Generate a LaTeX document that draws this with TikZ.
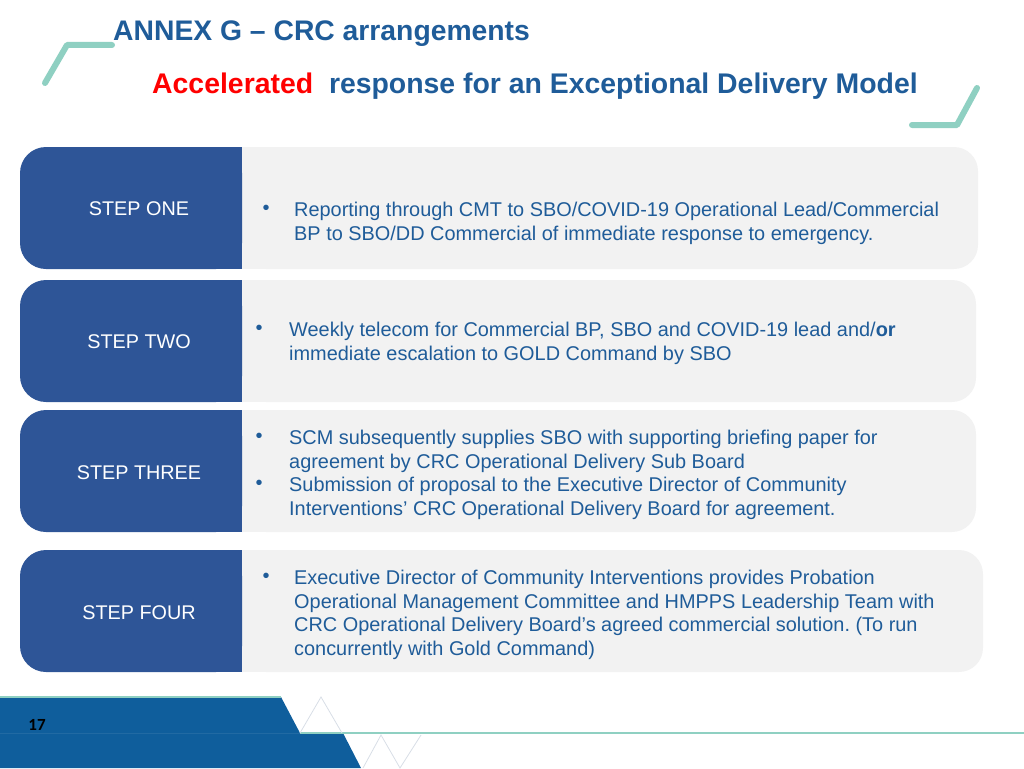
\documentclass[tikz,border=0pt]{standalone}
\usepackage{fontspec}
\setmainfont{Liberation Sans}
\newfontfamily\calfont{Carlito}
\definecolor{titleblue}{HTML}{1F5C99}
\definecolor{tabblue}{HTML}{2E5597}
\definecolor{boxgray}{HTML}{F2F2F2}
\definecolor{tealc}{HTML}{8FD0C2}
\definecolor{footblue}{HTML}{0F5E9C}
\definecolor{redc}{HTML}{FF0000}
\definecolor{trig}{HTML}{D8DEE6}
\newcommand{\firststrut}{\rule{0pt}{16pt}}
\frenchspacing
\begin{document}
\begin{tikzpicture}[x=1pt,y=-1pt,
  tabtext/.style={text=white,font=\fontsize{19.8}{24}\selectfont,anchor=center,inner sep=0},
  bodytext/.style={text=titleblue,font=\fontsize{19.9}{23.8}\selectfont,anchor=north west,align=left,inner sep=0},
  bullet/.style={text=titleblue,font=\fontsize{20}{24}\selectfont,anchor=base,inner sep=0},
  deco/.style={tealc,line width=6pt,line cap=round,line join=round}]
\useasboundingbox (0,0) rectangle (1024,768);
% decorations
\draw[deco] (45,83) -- (67,45) -- (112,45);
\draw[deco] (912,125) -- (957,125) -- (977,88);
% titles
\node[anchor=base west,inner sep=0,text=titleblue,font=\bfseries\fontsize{28.3}{32}\selectfont] (title) at (113,41) {ANNEX G -- CRC arrangements};
\node[anchor=base west,inner sep=0,text=titleblue,font=\bfseries\fontsize{28.4}{32}\selectfont] (subtitle) at (152,93) {\textcolor{redc}{Accelerated}\ \ response for an Exceptional Delivery Model};
% rows
\foreach \t/\b/\r in {147/269/978, 280/402/976, 410/532/976, 550/672/983}{
  \fill[boxgray,rounded corners=24] (242,\t) rectangle (\r,\b);
  \fill[boxgray] (242,\t) rectangle (400,\b);
  \fill[tabblue,rounded corners=26] (20,\t) rectangle (242,\b);
  \fill[tabblue] (150,\t) rectangle (242,\b);
}
\node[tabtext] (s1) at (139,209) {STEP ONE};
\node[tabtext] (s2) at (139,342) {STEP TWO};
\node[tabtext] (s3) at (139,473) {STEP THREE};
\node[tabtext] (s4) at (139,613) {STEP FOUR};
% row 1
\node[bullet] (b1) at (266,214) {•};
\node[bodytext] (t1) at (294,200) {\firststrut Reporting through CMT to SBO/COVID-19 Operational Lead/Commercial\\BP to SBO/DD Commercial of immediate response to emergency.};
% row 2
\node[bullet] (b2) at (259,334) {•};
\node[bodytext] (t2) at (289,320) {\firststrut Weekly telecom for Commercial BP, SBO and COVID-19 lead and/\textbf{or}\\immediate escalation to GOLD Command by SBO};
% row 3
\node[bullet] (b3) at (259,442) {•};
\node[bodytext] (t3) at (289,428) {\firststrut SCM subsequently supplies SBO with supporting briefing paper for\\agreement by CRC Operational Delivery Sub Board};
\node[bullet] (b3b) at (259,489) {•};
\node[bodytext] (t3b) at (289,475.5) {\firststrut Submission of proposal to the Executive Director of Community\\Interventions’ CRC Operational Delivery Board for agreement.};
% row 4
\node[bullet] (b4) at (266,582) {•};
\node[bodytext] (t4) at (294,568) {\firststrut Executive Director of Community Interventions provides Probation\\Operational Management Committee and HMPPS Leadership Team with\\CRC Operational Delivery Board’s agreed commercial solution. (To run\\concurrently with Gold Command)};
% footer
\fill[footblue] (0,697) -- (281,697) -- (300,733) -- (343,733) -- (361,768) -- (0,768) -- cycle;
\draw[tealc,line width=1.5pt] (0,697) -- (281,697);
\draw[tealc,line width=2pt] (300,733) -- (1024,733);
\draw[trig,line width=0.8pt] (300,733) -- (321,697) -- (342,733);
\draw[trig,line width=0.8pt] (363,768) -- (381,735) -- (400,768) -- (421,735);
\draw[footblue!85!white,line width=0.6pt,opacity=0.5] (0,733) -- (300,733);
\node[anchor=center,inner sep=0,font=\calfont\bfseries\fontsize{17}{19}\selectfont] (pg) at (37,725) {17};
\end{tikzpicture}
\end{document}
